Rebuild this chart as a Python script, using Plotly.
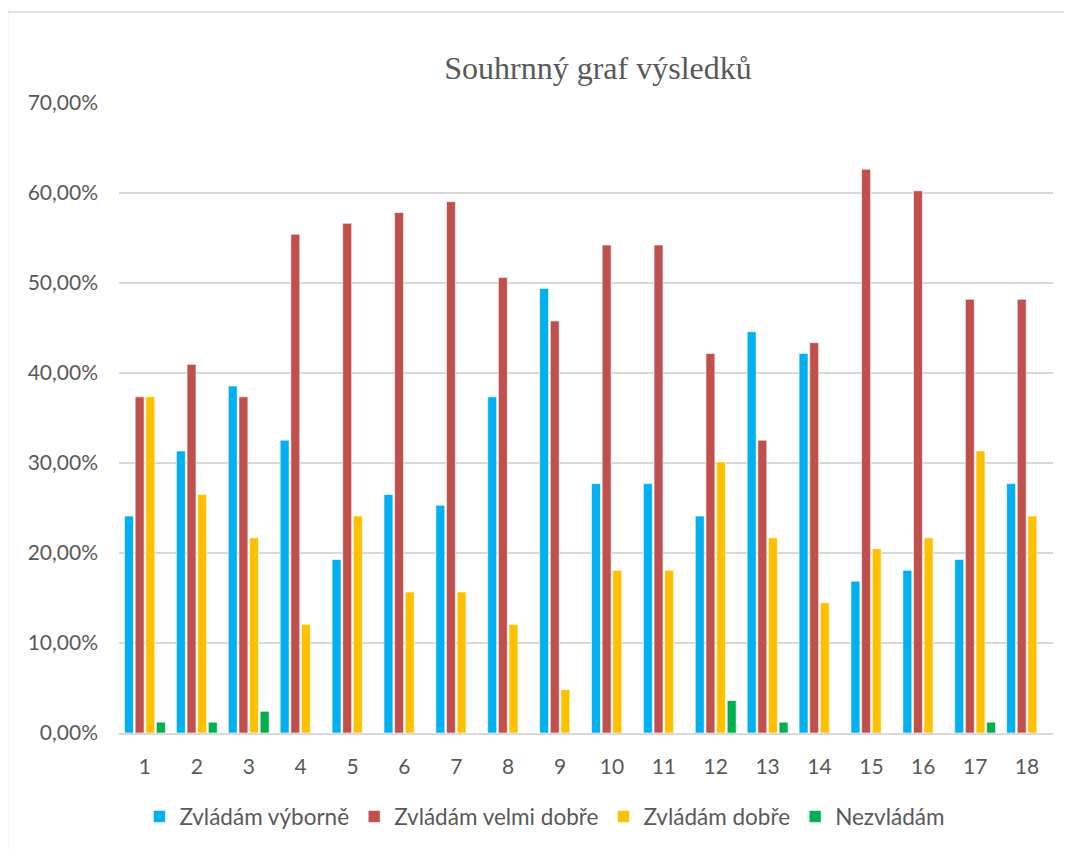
import plotly.graph_objects as go

categories = [str(i) for i in range(1, 19)]
series_names = ["Zvládám výborně", "Zvládám velmi dobře", "Zvládám dobře", "Nezvládám"]
vyborne = [24.10, 31.33, 38.55, 32.53, 19.28, 26.51, 25.30, 37.35, 49.40,
           27.71, 27.71, 24.10, 44.58, 42.17, 16.87, 18.07, 19.28, 27.71]
velmi_dobre = [37.35, 40.96, 37.35, 55.42, 56.63, 57.83, 59.04, 50.60, 45.78,
               54.22, 54.22, 42.17, 32.53, 43.37, 62.65, 60.24, 48.19, 48.19]
dobre = [37.35, 26.51, 21.69, 12.05, 24.10, 15.66, 15.66, 12.05, 4.82,
         18.07, 18.07, 30.12, 21.69, 14.46, 20.48, 21.69, 31.33, 24.10]
nezvladam = [1.20, 1.20, 2.41, 0, 0, 0, 0, 0, 0,
             0, 0, 3.61, 1.20, 0, 0, 0, 1.20, 0]
colors = ["#00B0F0", "#C0504D", "#FFC000", "#00B050"]
y_ticks = [0, 10, 20, 30, 40, 50, 60, 70]

fig = go.Figure()
for name, vals, col in zip(series_names, [vyborne, velmi_dobre, dobre, nezvladam], colors):
    fig.add_trace(go.Bar(
        x=categories, y=[v / 100 for v in vals], name=name,
        marker=dict(color=col, line=dict(color="white", width=0.6)),
    ))

# page has an 8px body margin, so the figure is offset by (8, 8)
OFF = 8
fig.update_layout(
    width=1072, height=849,
    margin=dict(l=119 - OFF, r=19 + OFF, t=103 - OFF, b=116 + OFF),
    paper_bgcolor="white", plot_bgcolor="white",
    separators=",.",
    barmode="group", bargap=0.18, bargroupgap=0.16,
    font=dict(family="Lato, Open Sans, sans-serif", size=21, color="#595959"),
    title=dict(text="Souhrnný graf výsledků", x=(598 - OFF) / 1072, xanchor="center",
               y=1 - (68 - OFF) / 849, yanchor="middle",
               font=dict(family="Liberation Serif, Times New Roman, serif", size=32, color="#595959")),
    legend=dict(orientation="h", x=0.456, xanchor="center", y=-0.133, yanchor="middle",
                font=dict(size=22.5, color="#595959"), traceorder="normal"),
    showlegend=True,
)
fig.update_yaxes(range=[0, 0.7], tickvals=[t / 100 for t in y_ticks], tickformat=".2%",
                 showgrid=True, gridcolor="#D9D9D9", gridwidth=1.5, zeroline=False,
                 showline=False, ticks="", ticklabelstandoff=20)
fig.update_xaxes(showline=True, linecolor="#D9D9D9", linewidth=1.5, showgrid=False,
                 ticks="", ticklabelstandoff=14)

# outer chart border (partially visible in the reference)
fig.add_shape(type="rect", xref="paper", yref="paper",
              x0=(7.5 - 119) / 934, x1=1.2, y0=-0.4, y1=(733 - 12) / 630,
              line=dict(color="#D9D9D9", width=1.5), fillcolor="rgba(0,0,0,0)", layer="below")

fig.write_html("out.html")
